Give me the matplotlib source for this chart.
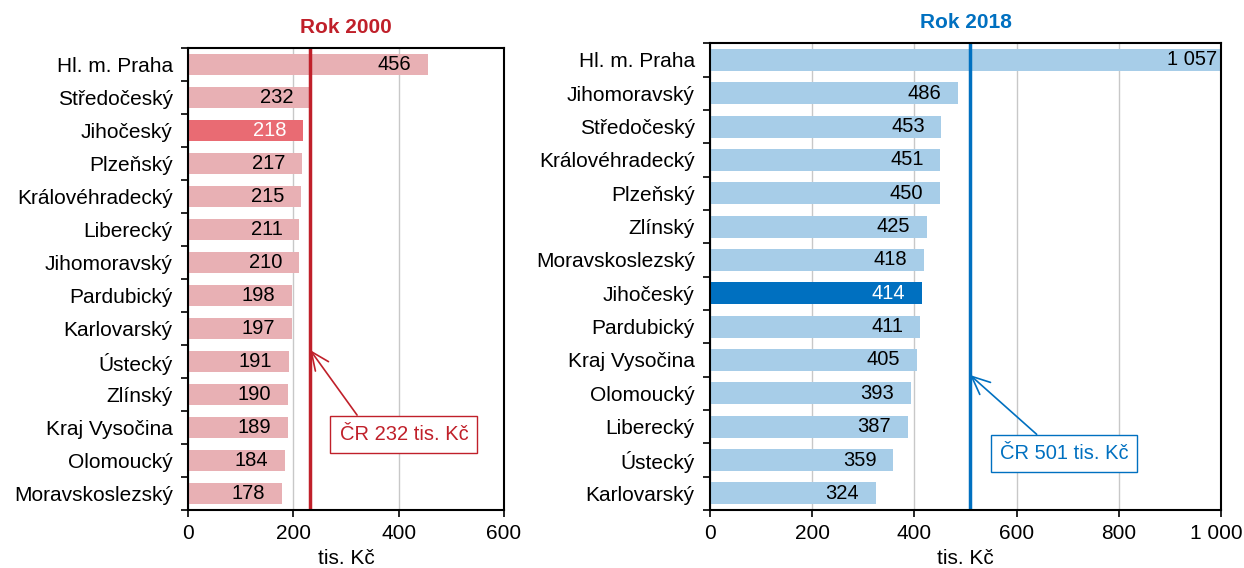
import matplotlib
matplotlib.use("Agg")
import matplotlib.pyplot as plt
import matplotlib.transforms as mtransforms
from matplotlib.ticker import FixedLocator, FuncFormatter

plt.rcParams['font.family'] = ['Liberation Sans', 'DejaVu Sans']

regions_2000 = ["Hl. m. Praha", "Středočeský", "Jihočeský", "Plzeňský", "Královéhradecký",
                "Liberecký", "Jihomoravský", "Pardubický", "Karlovarský", "Ústecký",
                "Zlínský", "Kraj Vysočina", "Olomoucký", "Moravskoslezský"]
values_2000 = [456, 232, 218, 217, 215, 211, 210, 198, 197, 191, 190, 189, 184, 178]

regions_2018 = ["Hl. m. Praha", "Jihomoravský", "Středočeský", "Královéhradecký", "Plzeňský",
                "Zlínský", "Moravskoslezský", "Jihočeský", "Pardubický", "Kraj Vysočina",
                "Olomoucký", "Liberecký", "Ústecký", "Karlovarský"]
values_2018 = [1057, 486, 453, 451, 450, 425, 418, 414, 411, 405, 393, 387, 359, 324]

cr_2000 = 232
cr_2018 = 501
cr_2018_line = 509
highlight = "Jihočeský"

FS = 15


def fmt(v):
    return f"{int(v):,}".replace(",", " ")


fig = plt.figure(figsize=(12.44, 5.68), dpi=100)
ax1 = fig.add_axes([0.1511, 0.102, 0.254, 0.8135])
ax2 = fig.add_axes([0.5707, 0.102, 0.4108, 0.822])


def draw(ax, regions, values, xmax, xticks, base, hi, linecol, title, line_val, cr_label,
         box_xy, relx):
    n = len(regions)
    ys = list(range(n))
    cols = [hi if r == highlight else base for r in regions]
    ax.barh(ys, values, height=0.66, color=cols, zorder=2)
    ax.set_xlim(0, xmax)
    ax.set_ylim(n - 0.5, -0.5)
    ax.set_yticks(ys)
    ax.set_yticklabels(regions, fontsize=FS)
    ax.yaxis.set_minor_locator(FixedLocator([i - 0.5 for i in range(n + 1)]))
    ax.tick_params(axis='y', which='major', length=0, pad=11)
    ax.tick_params(axis='y', which='minor', length=5, width=1.2, direction='out')
    ax.set_xticks(xticks)
    ax.xaxis.set_major_formatter(FuncFormatter(lambda v, p: fmt(v)))
    ax.tick_params(axis='x', length=5, width=1.2, labelsize=FS, pad=5)
    ax.set_xlabel("tis. Kč", fontsize=FS, labelpad=4)
    ax.grid(axis='x', color='#c8c8c8', linewidth=1, zorder=0)
    ax.set_axisbelow(True)
    for s in ax.spines.values():
        s.set_linewidth(1.5)
        s.set_zorder(5)
    for y, v, r in zip(ys, values, regions):
        clipped = v > xmax
        tx = min(v, xmax)
        ax.annotate(fmt(v), xy=(tx, y), xytext=(-3 if clipped else -12, 0),
                    textcoords='offset points', ha='right', va='center', fontsize=FS - 0.5,
                    color='white' if r == highlight else 'black', zorder=4)
    ax.axvline(line_val, color=linecol, linewidth=2.5, zorder=3)
    ax.set_title(title, color=linecol, fontsize=FS, fontweight='bold', pad=11)
    ax.annotate(cr_label, xy=(line_val, box_xy[2]), xytext=(box_xy[0], box_xy[1]),
                textcoords='data', ha='center', va='center', fontsize=FS - 0.5, color=linecol,
                bbox=dict(boxstyle='square,pad=0.45', fc='white', ec=linecol, lw=1),
                arrowprops=dict(arrowstyle='->,head_length=0.9,head_width=0.4', color=linecol,
                                lw=1.2, relpos=(relx, 1.0), shrinkA=0, shrinkB=0),
                zorder=6)


draw(ax1, regions_2000, values_2000, 600, [0, 200, 400, 600], '#e8b0b4', '#e96b73',
     '#c0202a', "Rok 2000", cr_2000, "ČR 232 tis. Kč", (410, 11.2, 8.65), 0.19)
draw(ax2, regions_2018, values_2018, 1000, [0, 200, 400, 600, 800, 1000], '#a7cde8', '#0070c0',
     '#0070c0', "Rok 2018", cr_2018_line, "ČR 501 tis. Kč", (693, 11.8, 9.45), 0.37)

# keep the last tick label of the right panel inside the figure
fig.canvas.draw()
last = ax2.get_xticklabels()[-1]
last.set_transform(last.get_transform() +
                   mtransforms.ScaledTranslation(-5 / 100, 0, fig.dpi_scale_trans))

fig.savefig("out.png", dpi=100)
